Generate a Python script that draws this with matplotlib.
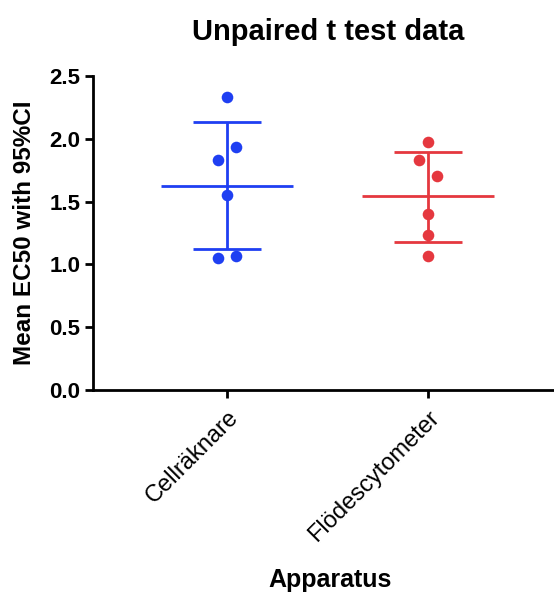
import numpy as np
import matplotlib.pyplot as plt

plt.rcParams['font.family'] = ['Liberation Sans', 'DejaVu Sans']

# 数据
categories = ['Cellräknare', 'Flödescytometer']
cell_values = [2.33, 1.93, 1.83, 1.55, 1.05, 1.07]
flow_values = [1.97, 1.83, 1.70, 1.40, 1.23, 1.07]
means = [1.625, 1.54]
ci_low = [1.12, 1.18]
ci_high = [2.13, 1.89]
colors = ['#1f3ff2', '#e5383f']

# 散点水平抖动（仅用于显示）
jitter = [0.0, 0.045, -0.045, 0.0, -0.045, 0.045]
jitter_flow = [0.0, -0.045, 0.045, 0.0, 0.0, 0.0]

fig = plt.figure(figsize=(5.54, 5.92), dpi=100)
ax = fig.add_axes([0.168, 0.341, 0.832, 0.531])

groups = [cell_values, flow_values]
jits = [jitter, jitter_flow]
for i, (vals, jit) in enumerate(zip(groups, jits)):
    c = colors[i]
    ax.scatter(np.array(jit) + i, vals, s=70, color=c, zorder=3, linewidths=0)
    ax.hlines(means[i], i - 0.33, i + 0.33, color=c, lw=2)
    ax.hlines([ci_low[i], ci_high[i]], i - 0.17, i + 0.17, color=c, lw=2)
    ax.vlines(i, ci_low[i], ci_high[i], color=c, lw=2)

ax.set_xlim(-0.667, 1.627)
ax.set_ylim(0, 2.5)
ax.set_yticks([0, 0.5, 1.0, 1.5, 2.0, 2.5])
ax.set_yticklabels(['0.0', '0.5', '1.0', '1.5', '2.0', '2.5'],
                   fontsize=16, fontweight='bold')
ax.set_xticks([0, 1])
ax.set_xticklabels(categories, rotation=45, ha='right', rotation_mode='anchor',
                   fontsize=17)

for s in ['top', 'right']:
    ax.spines[s].set_visible(False)
for s in ['left', 'bottom']:
    ax.spines[s].set_linewidth(2)
ax.tick_params(width=2, length=6, direction='out', pad=3)
ax.tick_params(axis='x', pad=6)

ax.set_title('Unpaired t test data', fontsize=21, fontweight='bold', pad=26, x=0.51)
ax.set_ylabel('Mean EC50 with 95%CI', fontsize=17.5, fontweight='bold', labelpad=10)
ax.set_xlabel('Apparatus', fontsize=18, fontweight='bold')
ax.xaxis.set_label_coords(0.514, -0.567)

fig.savefig('out.png', dpi=100)
